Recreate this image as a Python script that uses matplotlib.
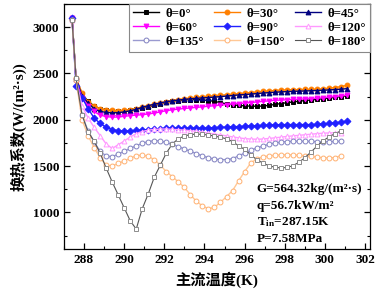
import numpy as np
import matplotlib
matplotlib.use("Agg")
import matplotlib.pyplot as plt
from matplotlib.ticker import MultipleLocator

plt.rcParams['font.family'] = ['Liberation Serif', 'Noto Sans CJK SC']
plt.rcParams['mathtext.fontset'] = 'custom'
plt.rcParams['mathtext.rm'] = 'Liberation Serif:bold'
plt.rcParams['mathtext.bf'] = 'Liberation Serif:bold'
plt.rcParams['mathtext.it'] = 'Liberation Serif:bold:italic'

# bulk fluid temperature (K)
temp = [287.4, 287.6, 287.9, 288.2, 288.5, 288.8, 289.1, 289.4, 289.7, 290.0,
        290.3, 290.6, 290.9, 291.2, 291.5, 291.8, 292.1, 292.4, 292.7, 293.0,
        293.3, 293.6, 293.9, 294.2, 294.5, 294.8, 295.1, 295.4, 295.7, 296.0,
        296.3, 296.6, 296.9, 297.2, 297.5, 297.8, 298.1, 298.4, 298.7, 299.0,
        299.3, 299.6, 299.9, 300.2, 300.5, 300.8, 301.1]

# heat transfer coefficient W/(m2 s)
h_0 = [3100, 2440, 2280, 2200, 2150, 2120, 2105, 2098, 2095, 2100,
       2108, 2118, 2128, 2140, 2155, 2172, 2188, 2200, 2208, 2214,
       2218, 2218, 2215, 2208, 2198, 2185, 2172, 2162, 2155, 2150,
       2147, 2146, 2148, 2155, 2165, 2175, 2184, 2192, 2200, 2207,
       2214, 2220, 2227, 2234, 2242, 2250, 2260]
h_30 = [3100, 2450, 2290, 2190, 2145, 2120, 2108, 2102, 2100, 2103,
        2110, 2120, 2135, 2150, 2165, 2180, 2195, 2208, 2218, 2227,
        2235, 2242, 2248, 2254, 2260, 2265, 2270, 2276, 2282, 2288,
        2294, 2300, 2306, 2311, 2316, 2320, 2323, 2325, 2326, 2327,
        2328, 2330, 2334, 2340, 2348, 2358, 2372]
h_45 = [3100, 2440, 2260, 2180, 2120, 2090, 2080, 2075, 2077, 2085,
        2097, 2112, 2135, 2152, 2168, 2182, 2195, 2205, 2213, 2220,
        2226, 2231, 2236, 2240, 2245, 2250, 2256, 2262, 2268, 2272,
        2277, 2283, 2288, 2293, 2297, 2301, 2304, 2307, 2309, 2311,
        2313, 2316, 2319, 2322, 2326, 2330, 2336]
h_60 = [3100, 2420, 2240, 2150, 2090, 2050, 2035, 2028, 2030, 2037,
        2045, 2050, 2055, 2063, 2072, 2085, 2098, 2108, 2115, 2122,
        2128, 2134, 2140, 2146, 2152, 2158, 2164, 2170, 2175, 2180,
        2186, 2192, 2198, 2204, 2210, 2213, 2216, 2219, 2222, 2225,
        2228, 2232, 2237, 2243, 2250, 2258, 2266]
h_90 = [3100, 2370, 2240, 2120, 2020, 1960, 1920, 1895, 1882, 1878,
        1880, 1885, 1890, 1895, 1900, 1905, 1908, 1910, 1910, 1910,
        1910, 1910, 1910, 1912, 1915, 1918, 1921, 1924, 1927, 1930,
        1933, 1936, 1939, 1942, 1945, 1947, 1948, 1948, 1948, 1948,
        1948, 1950, 1955, 1960, 1967, 1975, 1985]
h_120 = [3080, 2440, 2150, 2020, 1920, 1830, 1740, 1690, 1730, 1770,
         1815, 1850, 1873, 1888, 1896, 1900, 1900, 1897, 1893, 1888,
         1882, 1875, 1866, 1856, 1846, 1836, 1826, 1815, 1805, 1797,
         1792, 1790, 1792, 1798, 1805, 1812, 1820, 1826, 1832, 1838,
         1844, 1850, 1855, 1858, 1860, 1862]
h_135 = [3080, 2440, 2050, 1880, 1760, 1660, 1610, 1600, 1630, 1660,
         1690, 1720, 1745, 1765, 1775, 1770, 1755, 1735, 1710, 1685,
         1660, 1635, 1610, 1590, 1575, 1570, 1570, 1580, 1610, 1640,
         1670, 1695, 1715, 1735, 1750, 1758, 1765, 1768, 1768, 1768,
         1766, 1764, 1764, 1765, 1766, 1768]
h_150 = [3080, 2430, 2000, 1830, 1700, 1590, 1510, 1500, 1530, 1555,
         1585, 1612, 1620, 1605, 1570, 1510, 1440, 1385, 1330, 1270,
         1190, 1120, 1070, 1040, 1055, 1110, 1170, 1235, 1340, 1440,
         1530, 1578, 1598, 1610, 1617, 1620, 1622, 1620, 1617, 1612,
         1605, 1597, 1590, 1588, 1592, 1612]
h_180 = [3080, 2450, 2050, 1870, 1770, 1640, 1480, 1330, 1190, 1050,
         910, 820, 1040, 1200, 1380, 1510, 1640, 1740, 1795, 1825,
         1840, 1845, 1843, 1835, 1825, 1810, 1795, 1765, 1720, 1680,
         1625, 1570, 1535, 1505, 1488, 1480, 1485, 1503, 1540, 1590,
         1650, 1713, 1770, 1815, 1850, 1880]

# label, values, line colour, marker colour, marker, filled
series = [
    ("θ=0°", h_0, "#000000", "#000000", "s", True),
    ("θ=30°", h_30, "#FF7F00", "#FF7F00", "o", True),
    ("θ=45°", h_45, "#000080", "#000080", "^", True),
    ("θ=60°", h_60, "#FF00FF", "#FF00FF", "v", True),
    ("θ=90°", h_90, "#2020FF", "#2020FF", "D", True),
    ("θ=120°", h_120, "#FF99FF", "#FF99FF", "^", False),
    ("θ=135°", h_135, "#9A9AD0", "#8080C0", "o", False),
    ("θ=150°", h_150, "#FFC896", "#FFB070", "o", False),
    ("θ=180°", h_180, "#555555", "#8C8C8C", "s", False),
]

fig = plt.figure(figsize=(3.82, 2.97), dpi=100)
ax = fig.add_axes([0.1675, 0.1616, 0.801, 0.825])

handles = []
for label, vals, lc, mc, mk, filled in series:
    x = temp[:len(vals)]
    lw = 0.8 if label == "θ=180°" else 1.0
    h, = ax.plot(x, vals, color=lc, lw=lw, marker=mk, ms=3.5,
                 mfc=mc if filled else "white", mec=mc, mew=0.7, label=label)
    handles.append(h)

ax.set_xlim(287.0, 302.25)
ax.set_ylim(605, 3250)
ax.xaxis.set_major_locator(MultipleLocator(2))
ax.xaxis.set_minor_locator(MultipleLocator(1))
ax.yaxis.set_major_locator(MultipleLocator(500))
ax.yaxis.set_minor_locator(MultipleLocator(250))
ax.set_yticks([1000, 1500, 2000, 2500, 3000])
ax.tick_params(which="both", direction="in", right=True, top=False,
               labelsize=9.5)
ax.tick_params(which="major", length=4, width=0.9)
ax.tick_params(which="minor", length=2, width=0.8)
for lab in ax.get_xticklabels() + ax.get_yticklabels():
    lab.set_fontweight("bold")
for s in ax.spines.values():
    s.set_linewidth(0.9)

ax.set_xlabel("主流温度(K)", fontsize=11, fontweight="bold", labelpad=4)
ax.set_ylabel("换热系数(W/(m²·s))", fontsize=11, fontweight="bold", labelpad=4)

order = [0, 3, 6, 1, 4, 7, 2, 5, 8]
leg = ax.legend([handles[i] for i in order], [series[i][0] for i in order],
                ncol=3, loc="upper right", bbox_to_anchor=(1.0, 1.0),
                fancybox=False, edgecolor="#888888", framealpha=1,
                prop={"family": "Liberation Serif", "weight": "bold", "size": 9.3},
                handlelength=2.0, handletextpad=0.5, columnspacing=0.8,
                borderpad=0.3, labelspacing=0.15, borderaxespad=0)
leg.get_frame().set_linewidth(0.8)

info = ["G=564.32kg/(m²·s)", "q=56.7kW/m²", "T$_{\\mathrm{in}}$=287.15K", "P=7.58MPa"]
for i, t in enumerate(info):
    ax.text(0.63, 0.245 - i * 0.068, t, transform=ax.transAxes,
            fontsize=9.5, fontweight="bold", va="center")

fig.savefig("out.png", dpi=100)
